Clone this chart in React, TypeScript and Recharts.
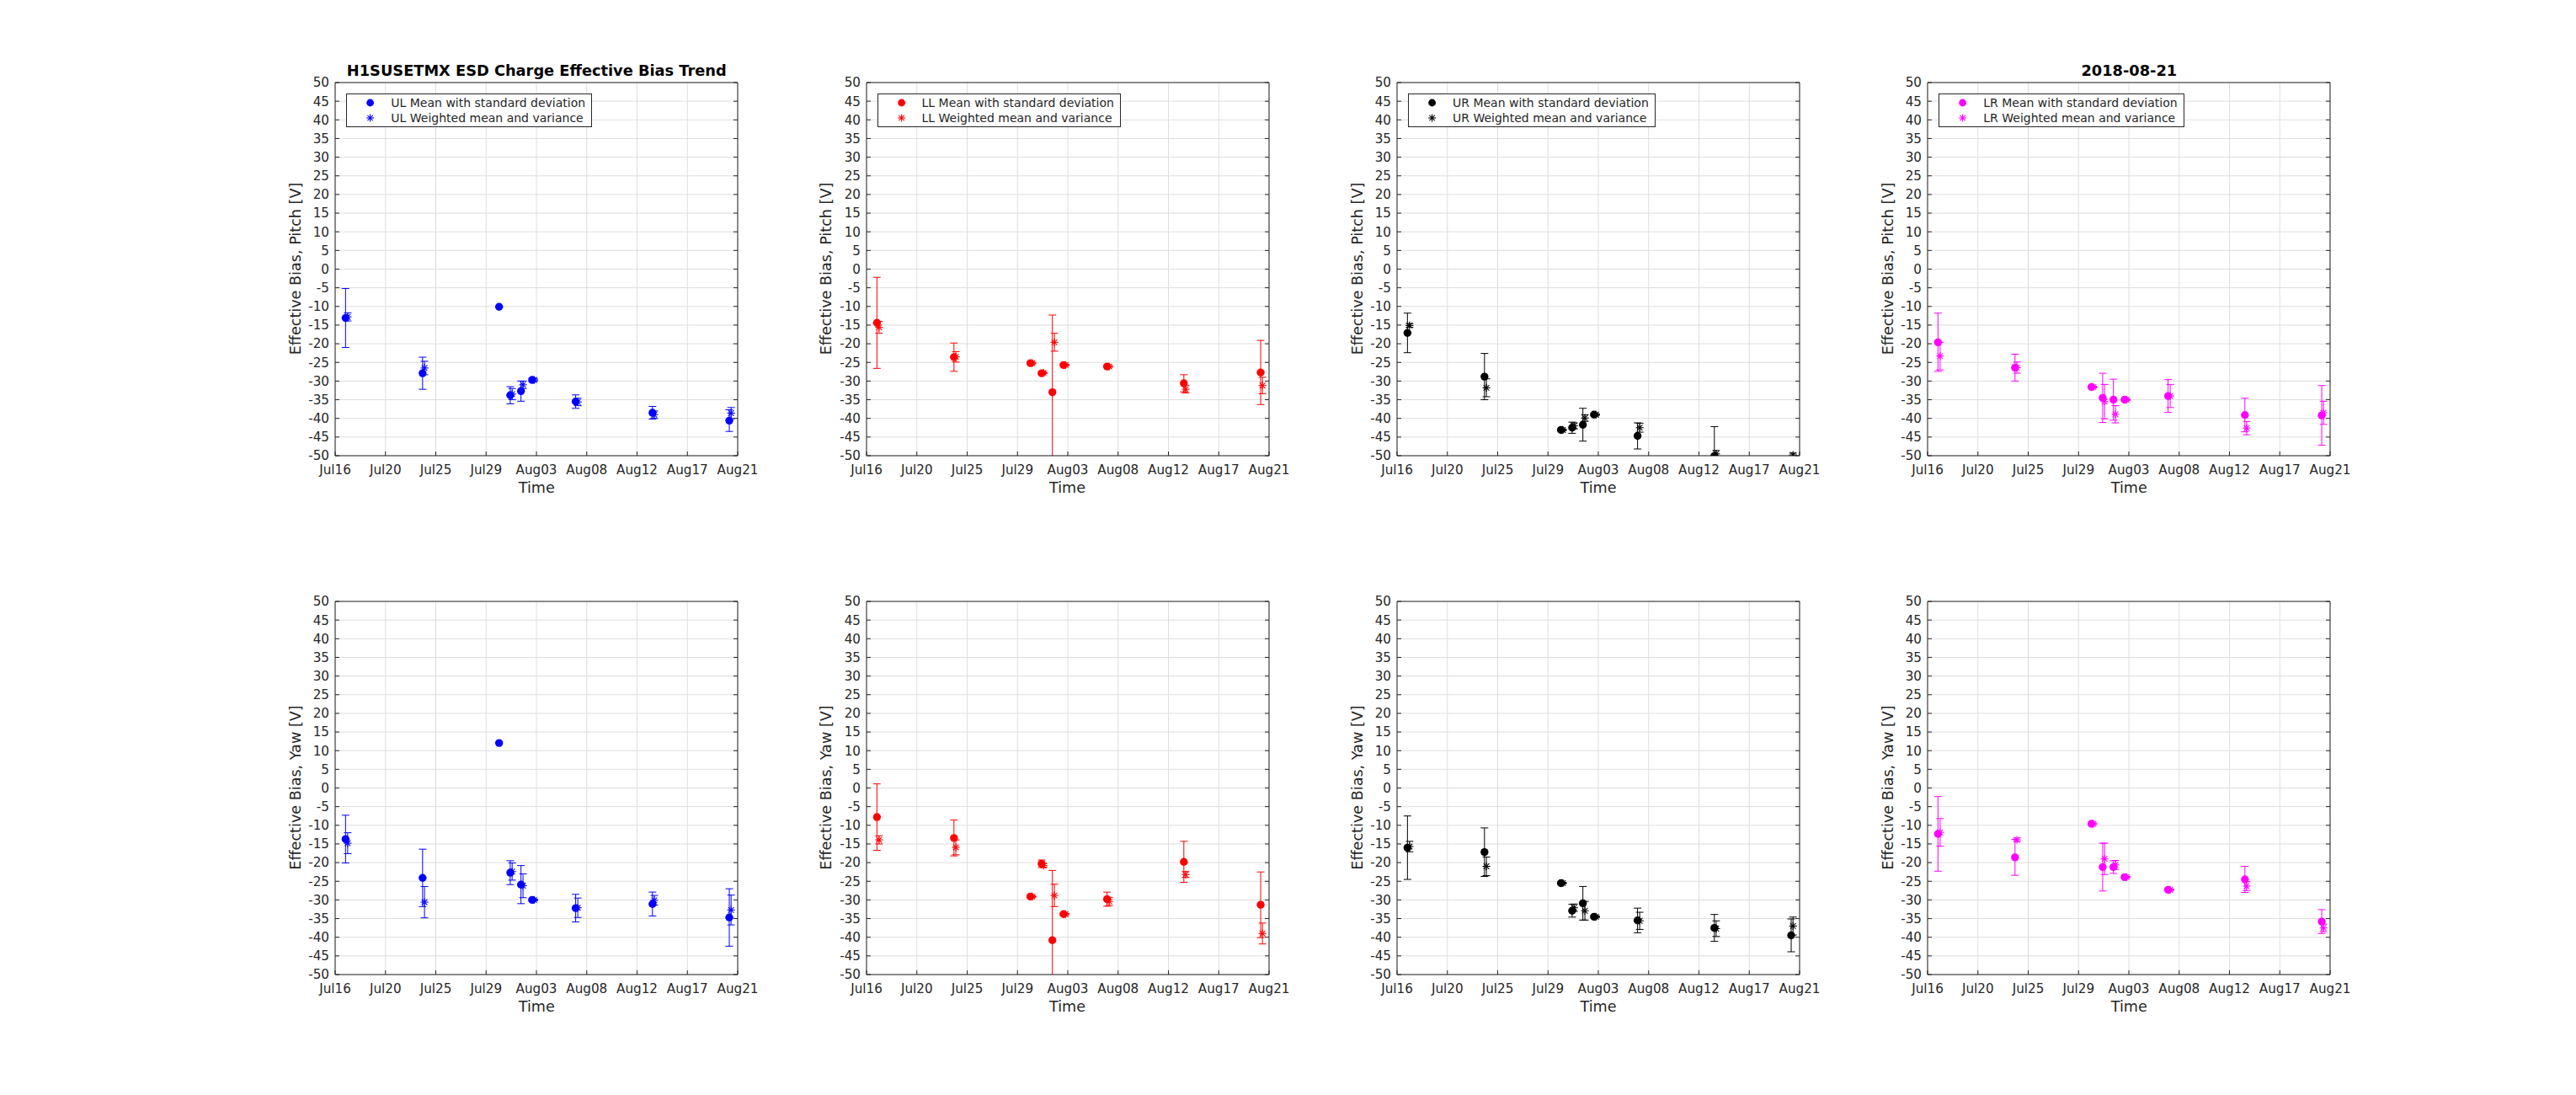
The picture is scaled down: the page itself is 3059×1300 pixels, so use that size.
import React from 'react';
import { ScatterChart, Scatter, XAxis, YAxis, CartesianGrid, ErrorBar } from 'recharts';

// Time in days after Jul16 00:00 (x axis runs Jul16 .. Aug21)
const meanTimes = [0.93, 7.82, 14.66, 15.66, 16.62, 17.62, 21.51, 28.38, 35.25];
const weightedTimes = [1.12, 7.99, 14.83, 15.83, 16.8, 17.8, 21.7, 28.54, 35.41];
const timeTicks = [0, 4.5, 9, 13.5, 18, 22.5, 27, 31.5, 36];
const timeTickLabels = ['Jul16', 'Jul20', 'Jul25', 'Jul29', 'Aug03', 'Aug08', 'Aug12', 'Aug17', 'Aug21'];
const biasTicks = [-50, -45, -40, -35, -30, -25, -20, -15, -10, -5, 0, 5, 10, 15, 20, 25, 30, 35, 40, 45, 50];

// Pitch
const ulPitchMean = [-13.1, -27.9, -10.1, -33.8, -32.7, -29.7, -35.5, -38.5, -40.6];
const ulPitchStd = [7.9, 4.3, 0, 2.3, 2.7, 0.5, 1.8, 1.7, 2.9];
const ulPitchWeighted = [-12.8, -26.5, null, -33.5, -31.0, -29.7, -35.6, -39.0, -38.6];
const ulPitchVar = [1.1, 1.8, 0, 1.5, 1.0, 0.3, 1.0, 1.0, 1.5];

const llPitchMean = [-14.4, -23.6, -25.2, -27.9, -33.0, -25.7, -26.1, -30.6, -27.7];
const llPitchStd = [12.2, 3.8, 0.3, 0.3, 20.7, 0.3, 0.3, 2.3, 8.6];
const llPitchWeighted = [-15.6, -23.5, -25.2, -27.8, -19.6, -25.7, -26.1, -32.2, -31.2];
const llPitchVar = [1.6, 1.4, 0.2, 0.2, 2.4, 0.2, 0.2, 1.0, 2.2];

const urPitchMean = [-17.1, -28.8, -43.1, -42.5, -41.7, -39.0, -44.7, -50.1, null];
const urPitchStd = [5.3, 6.2, 0.3, 1.5, 4.4, 0.3, 3.5, 7.9, 0];
const urPitchWeighted = [-15.1, -31.8, -43.1, -42.0, -39.9, -39.0, -42.5, -49.5, -49.8];
const urPitchVar = [0.5, 2.4, 0.2, 0.8, 0.9, 0.2, 1.2, 0.9, 0.5];

const lrPitchMean = [-19.6, -26.4, -31.6, -34.5, -35.0, -35.0, -34.0, -39.1, -39.2];
const lrPitchStd = [7.8, 3.6, 0.3, 6.6, 5.5, 0.3, 4.4, 4.5, 8.0];
const lrPitchWeighted = [-23.3, -26.4, -31.6, -35.5, -38.9, -35.0, -34.0, -42.6, -38.5];
const lrPitchVar = [3.7, 1.5, 0.2, 4.6, 2.3, 0.2, 3.1, 1.8, 3.1];

// Yaw
const ulYawMean = [-13.7, -24.1, 12.05, -22.7, -25.9, -30.0, -32.2, -31.1, -34.7];
const ulYawStd = [6.4, 7.7, 0, 3.2, 5.1, 0.3, 3.7, 3.2, 7.7];
const ulYawWeighted = [-14.8, -30.6, null, -22.4, -26.2, -30.0, -32.1, -30.1, -32.7];
const ulYawVar = [2.8, 4.2, 0, 2.3, 3.2, 0.2, 2.6, 1.3, 4.0];

const llYawMean = [-7.8, -13.4, -29.1, -20.3, -40.8, -33.8, -29.8, -19.8, -31.3];
const llYawStd = [8.9, 4.8, 0.3, 1.0, 18.7, 0.3, 1.9, 5.5, 8.8];
const llYawWeighted = [-13.9, -15.9, -29.1, -20.8, -28.8, -33.8, -30.4, -23.2, -39.0];
const llYawVar = [1.1, 2.0, 0.2, 0.5, 3.0, 0.2, 1.1, 0.8, 2.8];

const urYawMean = [-16.0, -17.2, -25.5, -32.9, -30.9, -34.5, -35.5, -37.5, -39.5];
const urYawStd = [8.5, 6.5, 0.3, 1.7, 4.5, 0.3, 3.3, 3.6, 4.4];
const urYawWeighted = [-15.7, -21.0, -25.5, -32.1, -32.9, -34.5, -35.6, -37.7, -37.0];
const urYawVar = [1.4, 2.5, 0.2, 1.0, 2.5, 0.2, 2.3, 2.1, 2.4];

const lrYawMean = [-12.3, -18.6, -9.6, -21.2, -21.2, -23.9, -27.3, -24.5, -35.8];
const lrYawStd = [10.0, 4.8, 0.3, 6.4, 1.7, 0.3, 0.3, 3.5, 3.2];
const lrYawWeighted = [-11.9, -13.9, -9.6, -19.0, -20.6, -23.9, -27.3, -26.3, -37.5];
const lrYawVar = [3.7, 0.5, 0.2, 4.2, 1.2, 0.2, 0.2, 1.2, 1.0];

const quadrants = ['UL', 'LL', 'UR', 'LR'];
const quadrantColors = ['#0000ff', '#ff0000', '#000000', '#ff00ff'];
const mainTitle = 'H1SUSETMX ESD Charge Effective Bias Trend';
const dateTitle = '2018-08-21';
const xLabel = 'Time';
const yLabels = ['Effective Bias, Pitch [V]', 'Effective Bias, Yaw [V]'];

const panelRows = [
  [
    [ulPitchMean, ulPitchStd, ulPitchWeighted, ulPitchVar],
    [llPitchMean, llPitchStd, llPitchWeighted, llPitchVar],
    [urPitchMean, urPitchStd, urPitchWeighted, urPitchVar],
    [lrPitchMean, lrPitchStd, lrPitchWeighted, lrPitchVar],
  ],
  [
    [ulYawMean, ulYawStd, ulYawWeighted, ulYawVar],
    [llYawMean, llYawStd, llYawWeighted, llYawVar],
    [urYawMean, urYawStd, urYawWeighted, urYawVar],
    [lrYawMean, lrYawStd, lrYawWeighted, lrYawVar],
  ],
];

// layout
const FONT = '"DejaVu Sans", sans-serif';
const TEXT = '#262626';
const PLOT_W = 478;
const PLOT_H = 443;
const colLefts = [398.3, 1028.5, 1659, 2289.3];
const rowTops = [97.5, 713.5];
const ML = 80;
const MT = 10;
const MR = 40;
const MB = 40;

const build = (times: number[], vals: (number | null)[], errs: number[]) =>
  times
    .map((t, i) => ({ t, v: vals[i], err: errs[i] }))
    .filter((d) => d.v !== null && d.v !== undefined);

const dotShape = (color: string) => (props: any) => {
  const { cx, cy } = props;
  if (cx == null || cy == null || isNaN(cx) || isNaN(cy)) return <g />;
  return <circle cx={cx} cy={cy} r={4.7} fill={color} stroke="none" />;
};

const starShape = (color: string) => (props: any) => {
  const { cx, cy } = props;
  if (cx == null || cy == null || isNaN(cx) || isNaN(cy)) return <g />;
  const r = 4.6;
  const d = r * 0.72;
  return (
    <g stroke={color} strokeWidth={1.1} fill="none">
      <line x1={cx - r} y1={cy} x2={cx + r} y2={cy} />
      <line x1={cx} y1={cy - r} x2={cx} y2={cy + r} />
      <line x1={cx - d} y1={cy - d} x2={cx + d} y2={cy + d} />
      <line x1={cx - d} y1={cy + d} x2={cx + d} y2={cy - d} />
    </g>
  );
};

const LegendMarker = ({ kind, color }: { kind: 'dot' | 'star'; color: string }) => {
  const cx = 27.6;
  const cy = 9;
  const r = 4.4;
  const d = r * 0.72;
  return (
    <svg width={52} height={18} style={{ display: 'block', flex: 'none' }}>
      {kind === 'dot' ? (
        <circle cx={cx} cy={cy} r={4.4} fill={color} />
      ) : (
        <g stroke={color} strokeWidth={1.1}>
          <line x1={cx - r} y1={cy} x2={cx + r} y2={cy} />
          <line x1={cx} y1={cy - r} x2={cx} y2={cy + r} />
          <line x1={cx - d} y1={cy - d} x2={cx + d} y2={cy + d} />
          <line x1={cx - d} y1={cy + d} x2={cx + d} y2={cy - d} />
        </g>
      )}
    </svg>
  );
};

const Panel = ({ row, col }: { row: number; col: number }) => {
  const [mean, std, weighted, wvar] = panelRows[row][col] as any;
  const color = quadrantColors[col];
  const meanData = build(meanTimes, mean, std);
  const wData = build(weightedTimes, weighted, wvar);
  const axisStyle = { fill: TEXT, fontSize: 15.2, fontFamily: FONT };
  return (
    <div
      style={{
        position: 'absolute',
        left: colLefts[col] - ML,
        top: rowTops[row] - MT,
        width: ML + PLOT_W + MR,
        height: MT + PLOT_H + MB,
      }}
    >
      <ScatterChart
        width={ML + PLOT_W + MR}
        height={MT + PLOT_H + MB}
        margin={{ top: MT - 1, right: MR - 1, bottom: 0, left: 0 }}
      >
        <CartesianGrid stroke="#dedede" strokeWidth={1} />
        <XAxis
          type="number"
          dataKey="t"
          domain={[0, 36]}
          ticks={timeTicks}
          interval={0}
          allowDataOverflow
          height={MB}
          tickSize={-5}
          tickMargin={16}
          stroke={TEXT}
          tick={axisStyle}
          tickFormatter={(v: number) => timeTickLabels[timeTicks.indexOf(v)] ?? ''}
        />
        <XAxis
          xAxisId="top"
          orientation="top"
          type="number"
          domain={[0, 36]}
          ticks={timeTicks}
          interval={0}
          allowDataOverflow
          height={1}
          tickSize={-5}
          stroke={TEXT}
          tickFormatter={() => ''}
        />
        <YAxis
          type="number"
          dataKey="v"
          domain={[-50, 50]}
          ticks={biasTicks}
          interval={0}
          allowDataOverflow
          width={ML}
          tickSize={-5}
          tickMargin={12}
          stroke={TEXT}
          tick={axisStyle}
        />
        <YAxis
          yAxisId="right"
          orientation="right"
          type="number"
          domain={[-50, 50]}
          ticks={biasTicks}
          interval={0}
          allowDataOverflow
          width={1}
          tickSize={-5}
          stroke={TEXT}
          tickFormatter={() => ''}
        />
        <Scatter
          data={meanData}
          fill={color}
          shape={dotShape(color)}
          isAnimationActive={false}
          legendType="none"
        >
          <ErrorBar dataKey="err" direction="y" width={4.5} stroke={color} strokeWidth={1} />
        </Scatter>
        <Scatter
          data={wData}
          fill={color}
          shape={starShape(color)}
          isAnimationActive={false}
          legendType="none"
        >
          <ErrorBar dataKey="err" direction="y" width={4.5} stroke={color} strokeWidth={1} />
        </Scatter>
      </ScatterChart>
    </div>
  );
};

const LegendBox = ({ col }: { col: number }) => {
  const color = quadrantColors[col];
  const q = quadrants[col];
  return (
    <div
      style={{
        position: 'absolute',
        left: colLefts[col] + 13,
        top: rowTops[0] + 13,
        border: `1px solid ${TEXT}`,
        background: '#ffffff',
        padding: '1.5px 7px 1px 0',
        fontFamily: FONT,
        fontSize: 14,
        color: TEXT,
        lineHeight: '18px',
        whiteSpace: 'nowrap',
      }}
    >
      <div style={{ display: 'flex', alignItems: 'center', height: 18 }}>
        <LegendMarker kind="dot" color={color} />
        <span>{`${q} Mean with standard deviation`}</span>
      </div>
      <div style={{ display: 'flex', alignItems: 'center', height: 18 }}>
        <LegendMarker kind="star" color={color} />
        <span>{`${q} Weighted mean and variance`}</span>
      </div>
    </div>
  );
};

export default function App() {
  return (
    <div
      style={{
        position: 'absolute',
        left: 0,
        top: 0,
        width: 3059,
        height: 1300,
        background: '#ffffff',
        overflow: 'hidden',
      }}
    >
      <style>{`.recharts-errorBars, .recharts-errorBar { clip-path: url(#plotAreaClip); }`}</style>
      <svg width={0} height={0} style={{ position: 'absolute', left: 0, top: 0 }}>
        <defs>
          <clipPath id="plotAreaClip" clipPathUnits="userSpaceOnUse">
            <rect x={ML} y={MT} width={PLOT_W} height={PLOT_H} />
          </clipPath>
        </defs>
      </svg>
      {[0, 1].map((row) => [0, 1, 2, 3].map((col) => <Panel key={`${row}-${col}`} row={row} col={col} />))}
      <svg
        width={3059}
        height={1300}
        style={{ position: 'absolute', left: 0, top: 0, pointerEvents: 'none' }}
      >
        <text
          x={colLefts[0] + PLOT_W / 2}
          y={rowTops[0] - 8}
          textAnchor="middle"
          fontFamily={FONT}
          fontSize={17.8}
          fontWeight="bold"
          fill="#000000"
        >
          {mainTitle}
        </text>
        <text
          x={colLefts[3] + PLOT_W / 2}
          y={rowTops[0] - 8}
          textAnchor="middle"
          fontFamily={FONT}
          fontSize={17.8}
          fontWeight="bold"
          fill="#000000"
        >
          {dateTitle}
        </text>
        {[0, 1].map((row) =>
          [0, 1, 2, 3].map((col) => (
            <g key={`lbl-${row}-${col}`}>
              <text
                x={colLefts[col] + PLOT_W / 2}
                y={rowTops[row] + PLOT_H + 44}
                textAnchor="middle"
                fontFamily={FONT}
                fontSize={17.6}
                fill={TEXT}
              >
                {xLabel}
              </text>
              <text
                transform={`translate(${colLefts[col] - 47.5}, ${rowTops[row] + PLOT_H / 2}) rotate(-90)`}
                textAnchor="middle"
                dominantBaseline="central"
                fontFamily={FONT}
                fontSize={17.6}
                fill={TEXT}
              >
                {yLabels[row]}
              </text>
            </g>
          ))
        )}
      </svg>
      {[0, 1, 2, 3].map((col) => (
        <LegendBox key={`leg-${col}`} col={col} />
      ))}
    </div>
  );
}
